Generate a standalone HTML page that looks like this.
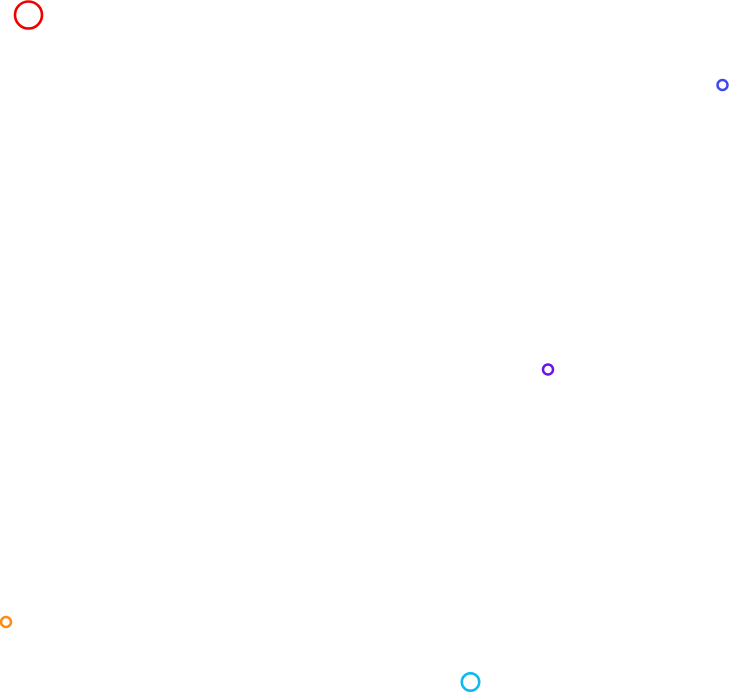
<!DOCTYPE html>
<html><head><style>html,body{margin:0;padding:0;background:#fff;width:730px;height:692px;overflow:hidden}</style></head>
<body>
<svg width="730" height="692" xmlns="http://www.w3.org/2000/svg">
<circle cx="28.5" cy="15" r="13.5" fill="none" stroke="#ee0000" stroke-width="2.6"/>
<circle cx="722.5" cy="85" r="5" fill="none" stroke="#3f48f0" stroke-width="2.5"/>
<circle cx="548" cy="369.5" r="5" fill="none" stroke="#7011e8" stroke-width="2.5"/>
<circle cx="6" cy="622" r="5" fill="none" stroke="#ff8c10" stroke-width="2.5"/>
<circle cx="470.5" cy="682" r="8.7" fill="none" stroke="#10b8f0" stroke-width="2.6"/>
</svg>
</body></html>
